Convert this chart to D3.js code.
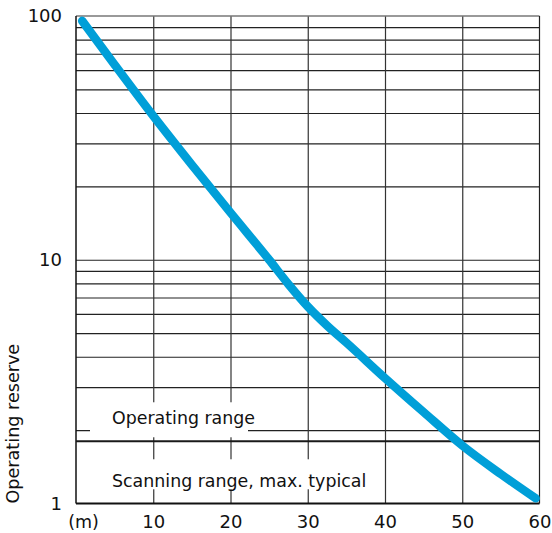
<!DOCTYPE html>
<html>
<head>
<meta charset="utf-8">
<script src="https://cdn.jsdelivr.net/npm/d3@7"></script>
<style>
  html, body { margin: 0; padding: 0; background: #fff; }
  svg { display: block; }
</style>
</head>
<body>
<svg id="chart" width="552" height="533"></svg>
<script>
// ---- data ----
const distance = [0.8, 5, 10, 15, 20, 25, 27.5, 30, 32.5, 35, 40, 45, 50, 55, 59.5];
const reserve  = [95.5, 63.1, 38.9, 24.5, 15.6, 10.0, 7.94, 6.43, 5.37, 4.57, 3.27, 2.37, 1.73, 1.32, 1.05];
const xTicks = [10, 20, 30, 40, 50, 60];
const yTicks = [1, 10, 100];
const yGrid = [2, 3, 4, 5, 6, 7, 8, 9, 10, 20, 30, 40, 50, 60, 70, 80, 90];
const operatingLimit = 1.8;
const yTitle = "Operating reserve";
const xUnit = "(m)";
const labelAbove = "Operating range";
const labelBelow = "Scanning range, max. typical";

// ---- layout ----
const pL = 76, pR = 539.5, pT = 16, pB = 503.5;
const svg = d3.select("#chart");
const x = d3.scaleLinear().domain([0, 60]).range([pL, pR]);
const y = d3.scaleLog().domain([1, 100]).range([pB, pT]);
const numFont = "DejaVu Sans";

// gridlines (horizontal)
const gy = svg.append("g").attr("transform", `translate(${pL},0)`)
  .call(d3.axisLeft(y).tickValues(yGrid).tickSize(-(pR - pL)).tickFormat(""));
gy.select(".domain").remove();
gy.selectAll("line").attr("stroke", "#222").attr("stroke-width", 1.2);

// gridlines (vertical)
const gx = svg.append("g").attr("transform", `translate(0,${pB})`)
  .call(d3.axisBottom(x).tickValues(xTicks.filter(d => d < 60)).tickSize(-(pB - pT)).tickFormat(""));
gx.select(".domain").remove();
gx.selectAll("line").attr("stroke", "#333").attr("stroke-width", 1.2);

// white label boxes
const opY = y(operatingLimit);
svg.append("rect").attr("x", pL + 14).attr("y", opY - 39).attr("width", 158).attr("height", 35).attr("fill", "#fff");
svg.append("rect").attr("x", pL + 14).attr("y", opY + 18).attr("width", 282).attr("height", 30).attr("fill", "#fff");

// borders
svg.append("line").attr("x1", pL).attr("x2", pR).attr("y1", y(100)).attr("y2", y(100))
  .attr("stroke", "#777").attr("stroke-width", 1.5);
svg.append("line").attr("x1", x(60)).attr("x2", x(60)).attr("y1", pT).attr("y2", pB)
  .attr("stroke", "#222").attr("stroke-width", 1.2);
svg.append("line").attr("x1", pL).attr("x2", pL).attr("y1", pT).attr("y2", pB)
  .attr("stroke", "#111").attr("stroke-width", 1.5);
svg.append("line").attr("x1", pL).attr("x2", pR).attr("y1", pB).attr("y2", pB)
  .attr("stroke", "#111").attr("stroke-width", 2);

// operating range limit line
svg.append("line").attr("x1", pL).attr("x2", pR).attr("y1", opY).attr("y2", opY)
  .attr("stroke", "#1a1a1a").attr("stroke-width", 2);

// curve
const pts = distance.map((d, i) => [d, reserve[i]]);
svg.append("path").datum(pts)
  .attr("fill", "none").attr("stroke", "#009fd8").attr("stroke-width", 8.5)
  .attr("stroke-linecap", "round").attr("stroke-linejoin", "round")
  .attr("d", d3.line().x(d => x(d[0])).y(d => y(d[1])).curve(d3.curveMonotoneX));

// y axis labels
const ya = svg.append("g").attr("transform", `translate(${pL},0)`)
  .call(d3.axisLeft(y).tickValues(yTicks).tickSize(0).tickPadding(14).tickFormat(d3.format("d")));
ya.select(".domain").remove();
ya.selectAll("text").attr("font-family", numFont).attr("font-size", 18).attr("fill", "#111");

// x axis labels
const xa = svg.append("g").attr("transform", `translate(0,${pB})`)
  .call(d3.axisBottom(x).tickValues(xTicks).tickSize(0).tickPadding(12));
xa.select(".domain").remove();
xa.selectAll("text").attr("font-family", numFont).attr("font-size", 18).attr("fill", "#111");

svg.append("text").attr("x", pL + 7.5).attr("y", pB + 24.5)
  .attr("text-anchor", "middle").attr("font-family", numFont).attr("font-size", 17.5).attr("fill", "#111")
  .text(xUnit);

// y title
svg.append("text").attr("transform", `translate(19,${pB}) rotate(-90)`)
  .attr("text-anchor", "start").attr("font-family", numFont).attr("font-size", 17.6).attr("fill", "#111")
  .text(yTitle);

// range labels
svg.append("text").attr("x", pL + 36).attr("y", opY - 17.5)
  .attr("font-family", numFont).attr("font-size", 17.4).attr("fill", "#111").text(labelAbove);
svg.append("text").attr("x", pL + 36).attr("y", opY + 45.5)
  .attr("font-family", numFont).attr("font-size", 17.4).attr("fill", "#111").text(labelBelow);
</script>
</body>
</html>
